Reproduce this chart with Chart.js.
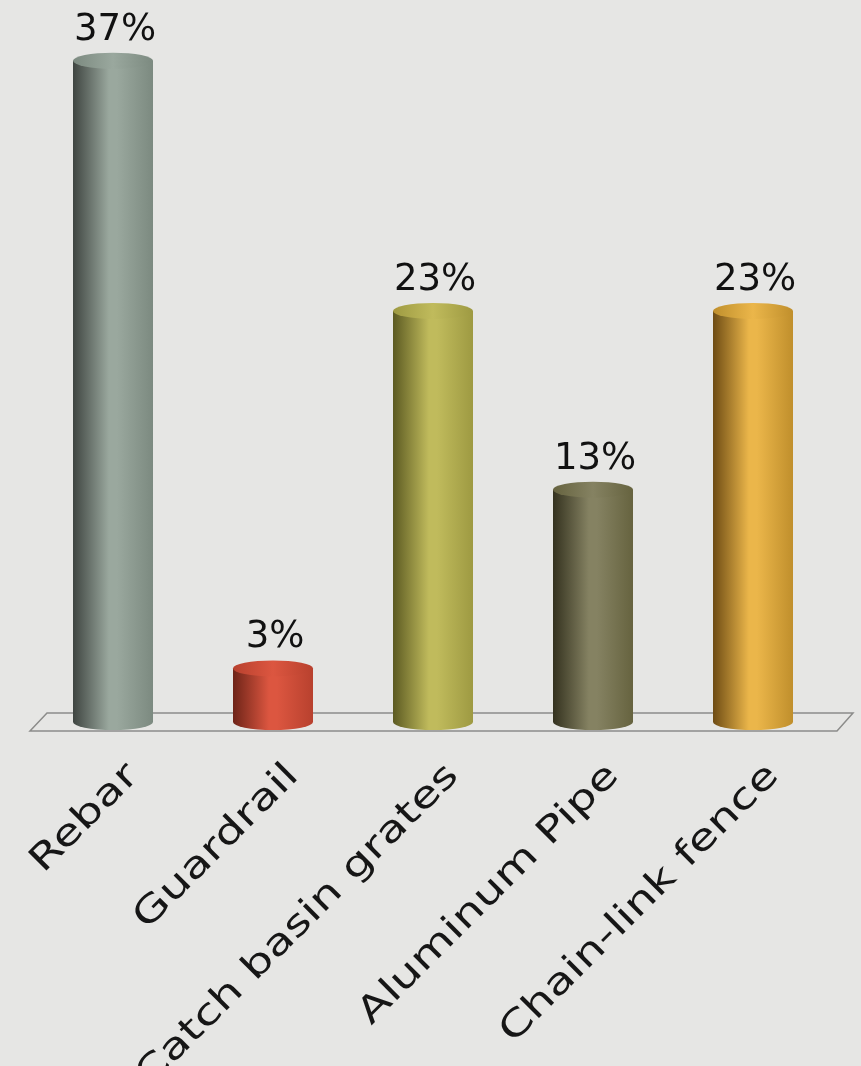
<!DOCTYPE html>
<html>
<head>
<meta charset="utf-8">
<script src="https://cdn.jsdelivr.net/npm/chart.js@4.4.1/dist/chart.umd.min.js"></script>
<style>
  html, body { margin: 0; padding: 0; background: #e6e6e4; }
  #wrap { width: 861px; height: 1066px; position: relative; overflow: hidden; }
</style>
</head>
<body>
<div id="wrap"><canvas id="chart" width="861" height="1066"></canvas></div>
<script>
// ---------- data ----------
const categorias = ["Rebar", "Guardrail", "Catch basin grates", "Aluminum Pipe", "Chain-link fence"];
const porcentajes = [37, 3, 23, 13, 23];
const etiquetas = porcentajes.map(v => v + "%");

// colours per cylinder: [dark edge, highlight, right edge]
const coloresCil = [
  ["#3f4541", "#9aa89e", "#7c8a80"],
  ["#6e2418", "#dc5640", "#b8412e"],
  ["#5c5a22", "#c0bb5c", "#9e9a42"],
  ["#34321f", "#858262", "#66633f"],
  ["#6e4c14", "#ebb64a", "#c08f2c"]
];

const FUENTE = "'DejaVu Sans', sans-serif";
const ESTIRAR = 1.3; // widen the category text a bit

// ---------- cylinders drawn over the (invisible) bar elements ----------
const cilindros = {
  id: "cilindros",
  beforeDatasetsDraw(chart) {
    // floor parallelogram at value 0
    const { ctx } = chart;
    const y0 = chart.scales.y.getPixelForValue(0);
    ctx.save();
    ctx.strokeStyle = "#8c8c8a";
    ctx.lineWidth = 1.5;
    ctx.beginPath();
    ctx.moveTo(30, y0 + 9);
    ctx.lineTo(47, y0 - 9);
    ctx.lineTo(853, y0 - 9);
    ctx.lineTo(837, y0 + 9);
    ctx.closePath();
    ctx.stroke();
    ctx.restore();
  },
  afterDatasetsDraw(chart) {
    const { ctx } = chart;
    const meta = chart.getDatasetMeta(0);
    meta.data.forEach((bar, i) => {
      const w = bar.width;
      const x1 = bar.x - w / 2;
      const x2 = bar.x + w / 2;
      const yTop = bar.y;
      const yBase = bar.base;
      const ry = 8;
      const [c0, c1, c2] = coloresCil[i];

      const grad = ctx.createLinearGradient(x1, 0, x2, 0);
      grad.addColorStop(0, c0);
      grad.addColorStop(0.45, c1);
      grad.addColorStop(0.55, c1);
      grad.addColorStop(1, c2);

      ctx.save();
      // body
      ctx.fillStyle = grad;
      ctx.beginPath();
      ctx.moveTo(x1, yTop);
      ctx.lineTo(x1, yBase);
      ctx.ellipse(bar.x, yBase, w / 2, ry, 0, Math.PI, 0, true);
      ctx.lineTo(x2, yTop);
      ctx.closePath();
      ctx.fill();
      // top cap
      ctx.beginPath();
      ctx.ellipse(bar.x, yTop, w / 2, ry, 0, 0, Math.PI * 2);
      const capGrad = ctx.createLinearGradient(x1, 0, x2, 0);
      capGrad.addColorStop(0, c2);
      capGrad.addColorStop(0.5, c1);
      capGrad.addColorStop(1, c2);
      ctx.fillStyle = capGrad;
      ctx.fill();

      // value label
      ctx.fillStyle = "#111";
      ctx.font = "37px " + FUENTE;
      ctx.textAlign = "center";
      ctx.textBaseline = "alphabetic";
      ctx.fillText(etiquetas[i], bar.x + 2, yTop - 21);
      ctx.restore();
    });
  },
  afterDraw(chart) {
    // category labels, rotated 45° and anchored at their end
    const { ctx } = chart;
    const xs = chart.scales.x;
    ctx.save();
    ctx.fillStyle = "#161616";
    ctx.font = "36px " + FUENTE;
    ctx.textAlign = "right";
    ctx.textBaseline = "alphabetic";
    categorias.forEach((txt, i) => {
      const x = xs.getPixelForTick(i);
      ctx.save();
      ctx.translate(x + 27, xs.top + 55);
      ctx.rotate(-Math.PI / 4);
      ctx.scale(ESTIRAR, 1);
      ctx.fillText(txt, 0, 0);
      ctx.restore();
    });
    ctx.restore();
  }
};

new Chart(document.getElementById("chart"), {
  type: "bar",
  data: {
    labels: categorias,
    datasets: [{
      data: porcentajes,
      backgroundColor: "rgba(0,0,0,0)",
      borderWidth: 0,
      categoryPercentage: 1,
      barPercentage: 0.5
    }]
  },
  options: {
    responsive: false,
    animation: false,
    layout: { padding: { left: 33, right: 28, top: 0, bottom: 0 } },
    plugins: { legend: { display: false }, tooltip: { enabled: false } },
    scales: {
      x: {
        grid: { display: false, drawTicks: false },
        border: { display: false },
        afterFit(scale) { scale.height = 344; },
        ticks: { display: false }
      },
      y: {
        display: false,
        min: 0,
        max: 40.4
      }
    }
  },
  plugins: [cilindros]
});
</script>
</body>
</html>
